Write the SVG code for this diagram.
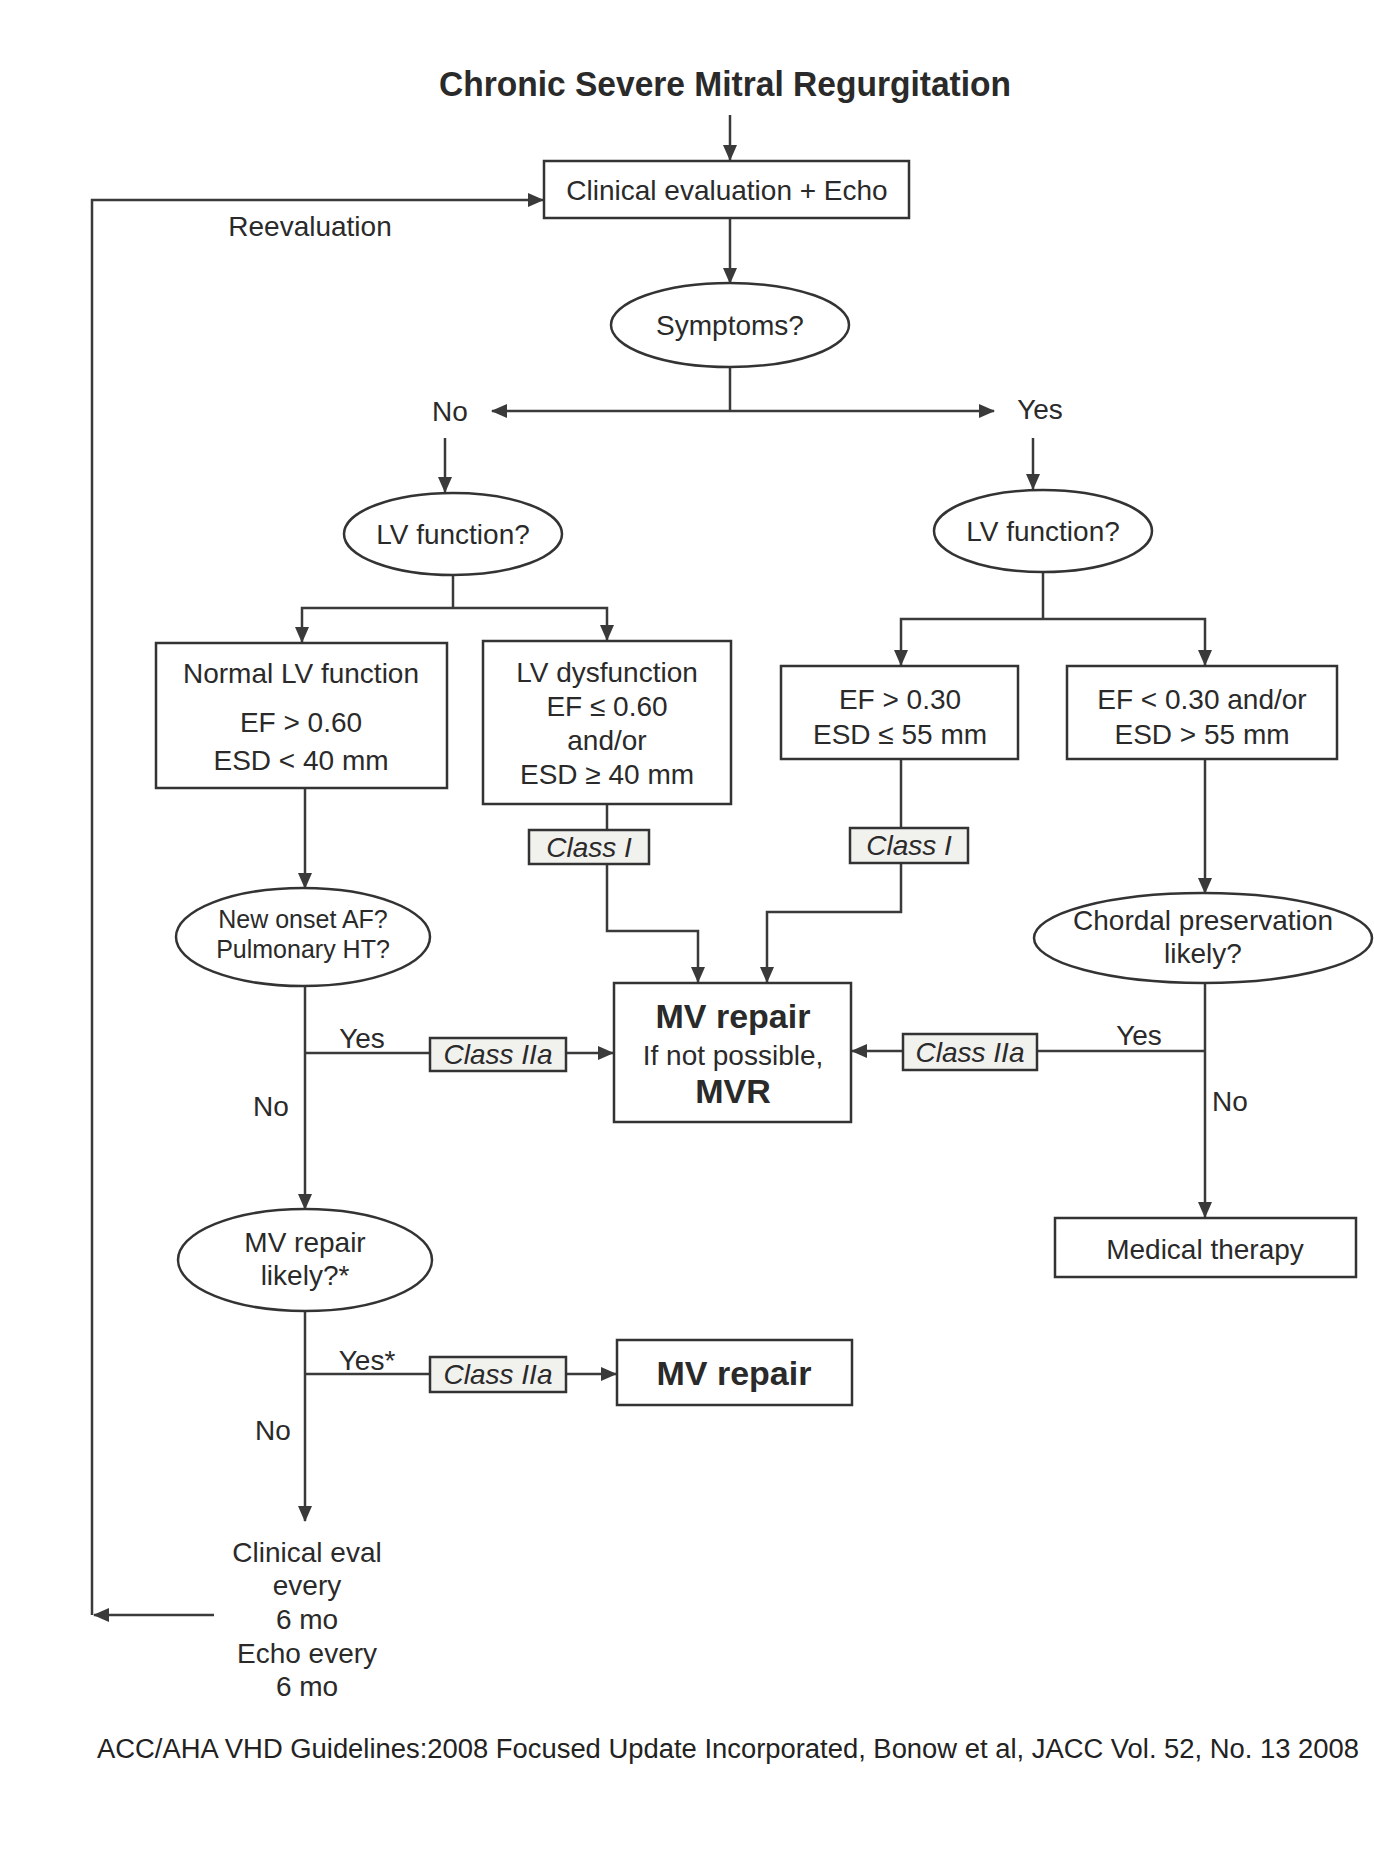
<svg xmlns="http://www.w3.org/2000/svg" width="1374" height="1856" viewBox="0 0 1374 1856">
<defs>
<style>
.t{font-family:"Liberation Sans",Arial,sans-serif;font-size:28px;fill:#2a2a2a;text-anchor:middle}
.b{font-weight:bold}
.i{font-style:italic}
.big{font-size:34px}
.sm{font-size:25px}
.box{fill:#fff;stroke:#333;stroke-width:2.5}
.cls{fill:#f1f1ee;stroke:#333;stroke-width:2.5}
.c{fill:none;stroke:#3a3a3a;stroke-width:2.5}
.a{marker-end:url(#arr)}
</style>
<marker id="arr" markerUnits="userSpaceOnUse" markerWidth="16" markerHeight="14" refX="15" refY="7" orient="auto">
<path d="M0,0 L16,7 L0,14 z" fill="#3a3a3a"/>
</marker>
</defs>
<rect width="1374" height="1856" fill="#fff"/>
<text id="title" class="t b" x="725" y="96" style="font-size:35px" textLength="572" lengthAdjust="spacingAndGlyphs">Chronic Severe Mitral Regurgitation</text>

<g id="connectors">
<path class="c a" d="M730,115 V160"/>
<path class="c a" d="M92,1615 V200 H543"/>
<path class="c a" d="M214,1615 H94"/>
<path class="c a" d="M730,218 V283"/>
<path class="c" d="M730,368 V411"/>
<path class="c a" d="M730,411 H492"/>
<path class="c a" d="M730,411 H994"/>
<path class="c a" d="M445,438 V492"/>
<path class="c a" d="M1033,438 V489"/>
<path class="c" d="M453,575 V608"/>
<path class="c a" d="M453,608 H302 V642"/>
<path class="c a" d="M453,608 H607 V640"/>
<path class="c" d="M1043,572 V619"/>
<path class="c a" d="M1043,619 H901 V665"/>
<path class="c a" d="M1043,619 H1205 V665"/>
<path class="c a" d="M305,788 V888"/>
<path class="c" d="M607,804 V830"/>
<path class="c a" d="M607,864 V931 H698 V982"/>
<path class="c" d="M901,759 V828"/>
<path class="c a" d="M901,863 V912 H767 V982"/>
<path class="c a" d="M1205,759 V893"/>
<path class="c a" d="M1205,983 V1217"/>
<path class="c" d="M1205,1051 H1037"/>
<path class="c a" d="M903,1051 H852"/>
<path class="c a" d="M305,986 V1209"/>
<path class="c" d="M305,1053 H430"/>
<path class="c a" d="M566,1053 H613"/>
<path class="c a" d="M305,1311 V1521"/>
<path class="c" d="M305,1374 H430"/>
<path class="c a" d="M566,1374 H616"/>
</g>

<g id="clinical-eval">
<rect class="box" x="544" y="161" width="365" height="57"/>
<text class="t" x="727" y="200">Clinical evaluation + Echo</text>
</g>
<text id="reevaluation" class="t" x="310" y="236">Reevaluation</text>

<g id="symptoms">
<ellipse class="box" cx="730" cy="325" rx="119" ry="42"/>
<text class="t" x="730" y="335">Symptoms?</text>
</g>
<text id="no-label" class="t" x="450" y="421">No</text>
<text id="yes-label" class="t" x="1040" y="419">Yes</text>

<g id="lv-left">
<ellipse class="box" cx="453" cy="534" rx="109" ry="41"/>
<text class="t" x="453" y="544">LV function?</text>
</g>
<g id="lv-right">
<ellipse class="box" cx="1043" cy="531" rx="109" ry="41"/>
<text class="t" x="1043" y="541">LV function?</text>
</g>

<g id="normal-lv">
<rect class="box" x="156" y="643" width="291" height="145"/>
<text class="t" x="301" y="683">Normal LV function</text>
<text class="t" x="301" y="732">EF &gt; 0.60</text>
<text class="t" x="301" y="770">ESD &lt; 40 mm</text>
</g>
<g id="lv-dysfunction">
<rect class="box" x="483" y="641" width="248" height="163"/>
<text class="t" x="607" y="682">LV dysfunction</text>
<text class="t" x="607" y="716">EF ≤ 0.60</text>
<text class="t" x="607" y="750">and/or</text>
<text class="t" x="607" y="784">ESD ≥ 40 mm</text>
</g>
<g id="ef-gt-030">
<rect class="box" x="781" y="666" width="237" height="93"/>
<text class="t" x="900" y="709">EF &gt; 0.30</text>
<text class="t" x="900" y="744">ESD ≤ 55 mm</text>
</g>
<g id="ef-lt-030">
<rect class="box" x="1067" y="666" width="270" height="93"/>
<text class="t" x="1202" y="709">EF &lt; 0.30 and/or</text>
<text class="t" x="1202" y="744">ESD &gt; 55 mm</text>
</g>

<g id="class-i-left">
<rect class="cls" x="529" y="830" width="120" height="34"/>
<text class="t i" x="589" y="857">Class I</text>
</g>
<g id="class-i-right">
<rect class="cls" x="850" y="828" width="118" height="35"/>
<text class="t i" x="909" y="855">Class I</text>
</g>

<g id="new-onset">
<ellipse class="box" cx="303" cy="937" rx="127" ry="49"/>
<text class="t sm" x="303" y="928">New onset AF?</text>
<text class="t sm" x="303" y="958">Pulmonary HT?</text>
</g>

<g id="chordal">
<ellipse class="box" cx="1203" cy="938" rx="169" ry="45"/>
<text class="t" x="1203" y="930">Chordal preservation</text>
<text class="t" x="1203" y="963">likely?</text>
</g>

<g id="mv-repair-mvr">
<rect class="box" x="614" y="983" width="237" height="139"/>
<text class="t b big" x="733" y="1028">MV repair</text>
<text class="t" x="733" y="1065">If not possible,</text>
<text class="t b big" x="733" y="1103">MVR</text>
</g>

<g id="class-iia-1">
<rect class="cls" x="430" y="1038" width="136" height="33"/>
<text class="t i" x="498" y="1064">Class IIa</text>
</g>
<text class="t" x="362" y="1048">Yes</text>
<text class="t" x="271" y="1116">No</text>

<g id="class-iia-2">
<rect class="cls" x="903" y="1034" width="134" height="36"/>
<text class="t i" x="970" y="1062">Class IIa</text>
</g>
<text class="t" x="1139" y="1045">Yes</text>
<text class="t" x="1230" y="1111">No</text>

<g id="medical-therapy">
<rect class="box" x="1055" y="1218" width="301" height="59"/>
<text class="t" x="1205" y="1259">Medical therapy</text>
</g>

<g id="mv-likely">
<ellipse class="box" cx="305" cy="1260" rx="127" ry="51"/>
<text class="t" x="305" y="1252">MV repair</text>
<text class="t" x="305" y="1285">likely?*</text>
</g>

<g id="class-iia-3">
<rect class="cls" x="430" y="1357" width="136" height="35"/>
<text class="t i" x="498" y="1384">Class IIa</text>
</g>
<text class="t" x="367" y="1370">Yes*</text>
<text class="t" x="273" y="1440">No</text>

<g id="mv-repair">
<rect class="box" x="617" y="1340" width="235" height="65"/>
<text class="t b big" x="734" y="1385">MV repair</text>
</g>

<g id="followup">
<text class="t" x="307" y="1562">Clinical eval</text>
<text class="t" x="307" y="1595">every</text>
<text class="t" x="307" y="1629">6 mo</text>
<text class="t" x="307" y="1663">Echo every</text>
<text class="t" x="307" y="1696">6 mo</text>
</g>

<text id="footer" x="97" y="1758" font-family="'Liberation Sans',Arial,sans-serif" font-size="27" fill="#222" textLength="1262" lengthAdjust="spacingAndGlyphs">ACC/AHA VHD Guidelines:2008  Focused Update Incorporated, Bonow et al, JACC Vol. 52, No. 13 2008</text>
</svg>
